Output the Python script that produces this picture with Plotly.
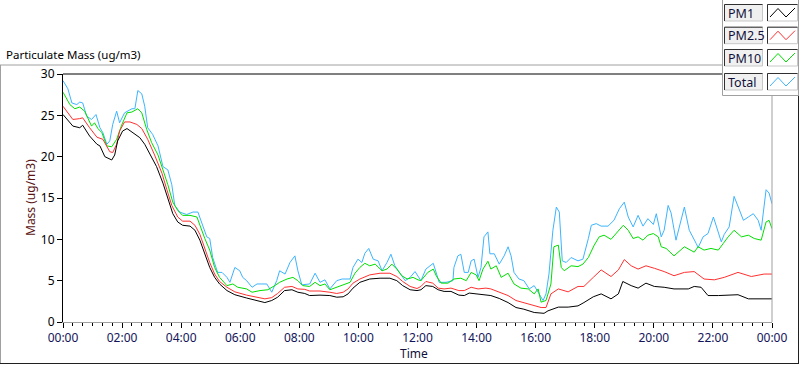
import pandas as pd
import plotly.graph_objects as go

# ---- data (minutes after 00:00, mass ug/m3) ----
pm1_min = [0, 20, 34, 40, 54, 69, 75, 85, 99, 105, 111, 121, 130, 142, 156, 166, 176, 190, 203, 213, 223, 233, 243,
           258, 268, 278, 288, 298, 308, 318, 333, 349, 373, 394, 410, 424, 436, 450, 465, 477, 491, 501, 522, 542,
           556, 569, 579, 589, 603, 623, 644, 664, 678, 690, 705, 719, 727, 733, 737, 751, 762, 774, 788, 804, 815,
           825, 839, 855, 869, 886, 904, 920, 936, 957, 971, 977, 985, 1006, 1026, 1046, 1058, 1077, 1093, 1113,
           1128, 1137, 1154, 1168, 1184, 1201, 1221, 1241, 1270, 1282, 1296, 1310, 1331, 1371, 1392, 1440]
pm1_val = [25.1, 23.7, 23.5, 23.8, 22.5, 21.5, 21.3, 20.0, 19.6, 20.2, 21.9, 23.1, 23.4, 22.9, 22.3, 21.5, 20.4, 18.8,
           16.8, 14.8, 13.1, 12.1, 11.7, 11.6, 11.1, 9.9, 8.3, 6.6, 5.4, 4.6, 3.8, 3.3, 2.9, 2.6, 2.35, 2.6, 3.0, 3.8,
           3.9, 3.6, 3.45, 3.2, 3.25, 3.2, 3.0, 3.05, 3.4, 4.1, 4.8, 5.2, 5.3, 5.3, 5.0, 4.4, 3.9, 3.8, 3.9, 4.2, 4.4,
           4.3, 3.9, 3.7, 3.7, 3.25, 3.2, 3.5, 3.4, 3.25, 3.2, 2.85, 2.35, 1.75, 1.55, 1.15, 1.05, 1.05, 1.35, 1.8,
           1.8, 1.95, 2.35, 3.05, 3.4, 2.8, 3.4, 4.9, 4.4, 4.1, 4.7, 4.3, 4.2, 4.0, 4.0, 4.3, 4.2, 3.2, 3.2, 3.3,
           2.8, 2.8]

pm25_min = [0, 20, 34, 40, 54, 69, 81, 95, 101, 109, 115, 125, 136, 150, 160, 172, 186, 201, 211, 221, 233, 243, 258,
            268, 278, 288, 298, 308, 318, 333, 349, 373, 394, 410, 424, 436, 450, 465, 477, 491, 501, 522, 542, 556,
            569, 579, 589, 603, 623, 644, 664, 678, 690, 705, 719, 727, 737, 751, 762, 774, 788, 804, 815, 829, 843,
            859, 869, 886, 904, 920, 936, 957, 971, 981, 991, 1006, 1026, 1046, 1058, 1077, 1093, 1113, 1128, 1140,
            1154, 1168, 1184, 1201, 1221, 1241, 1262, 1282, 1302, 1323, 1343, 1371, 1398, 1424, 1440]
pm25_val = [26.1, 24.5, 24.6, 24.7, 23.5, 22.35, 22.1, 20.6, 20.5, 21.5, 23.1, 24.2, 24.2, 23.9, 23.4, 22.1, 20.2,
            18.0, 16.0, 14.1, 12.7, 12.2, 12.2, 11.7, 10.6, 8.9, 7.2, 5.8, 4.9, 4.2, 3.65, 3.25, 3.0, 2.8, 2.95, 3.45,
            4.2, 4.3, 4.0, 3.95, 3.75, 3.75, 3.6, 3.45, 3.6, 4.0, 4.7, 5.2, 5.7, 5.9, 5.9, 5.5, 4.9, 4.3, 4.05, 4.3,
            4.9, 4.7, 4.1, 4.0, 4.1, 3.8, 3.8, 4.2, 4.0, 4.1, 4.0, 3.6, 3.2, 2.6, 2.35, 1.95, 1.75, 1.75, 3.4, 4.0,
            3.65, 4.3, 4.3, 5.4, 6.3, 5.5, 6.3, 7.55, 6.8, 6.4, 6.8, 6.5, 6.1, 5.6, 6.0, 6.1, 5.2, 5.1, 5.4, 6.0, 5.5,
            5.8, 5.8]

pm10_min = [0, 14, 24, 34, 44, 58, 64, 71, 79, 89, 99, 109, 119, 130, 140, 152, 160, 170, 180, 193, 203, 213, 223,
            233, 243, 258, 272, 278, 288, 298, 308, 318, 333, 345, 355, 373, 384, 400, 416, 430, 440, 455, 467, 477,
            487, 501, 512, 522, 532, 542, 556, 569, 583, 593, 603, 613, 623, 634, 648, 658, 668, 678, 688, 699, 711,
            721, 727, 741, 752, 758, 768, 782, 794, 808, 819, 829, 839, 845, 853, 863, 869, 880, 890, 904, 916, 930,
            945, 957, 965, 971, 981, 991, 997, 1006, 1012, 1018, 1032, 1046, 1056, 1067, 1079, 1089, 1099, 1113,
            1128, 1138, 1148, 1158, 1168, 1178, 1188, 1199, 1209, 1215, 1225, 1241, 1262, 1282, 1290, 1302, 1316,
            1331, 1341, 1351, 1363, 1378, 1392, 1404, 1418, 1428, 1434, 1440]
pm10_val = [27.8, 26.3, 25.8, 26.0, 25.5, 23.7, 24.1, 23.4, 22.9, 21.3, 21.2, 22.1, 23.8, 25.3, 25.4, 25.8, 25.3,
            23.3, 21.7, 20.2, 18.4, 16.6, 14.5, 13.5, 12.9, 12.9, 12.7, 11.7, 10.1, 8.7, 6.6, 5.4, 4.4, 4.6, 4.2, 4.0,
            3.6, 3.8, 3.9, 4.4, 4.8, 5.2, 5.4, 5.0, 4.4, 4.3, 4.8, 4.4, 4.6, 3.9, 4.2, 4.5, 4.8, 5.9, 6.6, 7.1, 6.8,
            7.0, 6.2, 6.4, 7.0, 6.4, 5.6, 5.2, 5.4, 5.1, 5.0, 6.0, 6.4, 5.6, 4.7, 4.7, 5.2, 5.3, 5.0, 6.0, 5.7, 5.0,
            6.4, 7.35, 6.4, 6.8, 5.4, 5.9, 4.6, 4.1, 4.0, 3.4, 4.0, 2.4, 2.6, 4.6, 9.1, 9.3, 6.6, 6.2, 6.8, 6.7, 7.0,
            7.8, 9.3, 10.3, 10.5, 10.0, 11.1, 11.7, 11.1, 10.1, 10.3, 9.9, 10.5, 10.7, 10.3, 9.1, 8.9, 8.0, 9.1, 8.45,
            9.1, 8.7, 8.9, 8.7, 9.5, 10.3, 11.1, 10.3, 10.5, 10.1, 9.9, 12.1, 12.3, 11.3]

total_min = [0, 10, 18, 28, 34, 40, 48, 58, 67, 75, 81, 89, 95, 101, 109, 115, 125, 140, 146, 152, 160, 166, 172,
             182, 193, 203, 213, 221, 227, 237, 251, 264, 274, 282, 292, 298, 304, 314, 323, 333, 339, 349, 359, 365,
             373, 384, 394, 404, 414, 424, 434, 440, 451, 461, 471, 477, 485, 501, 512, 522, 532, 542, 556, 567, 583,
             589, 599, 607, 613, 621, 630, 640, 648, 658, 666, 674, 684, 695, 705, 715, 727, 737, 752, 758, 764, 778,
             792, 794, 802, 808, 815, 823, 829, 835, 843, 849, 855, 863, 867, 876, 886, 896, 904, 910, 916, 926, 936,
             947, 957, 967, 975, 981, 987, 995, 1002, 1008, 1014, 1022, 1032, 1046, 1056, 1067, 1073, 1083, 1093,
             1107, 1119, 1130, 1140, 1148, 1158, 1168, 1178, 1188, 1199, 1205, 1215, 1221, 1229, 1235, 1245, 1262,
             1272, 1286, 1290, 1300, 1310, 1321, 1327, 1337, 1343, 1353, 1363, 1371, 1382, 1392, 1402, 1412, 1418,
             1428, 1434, 1440]
total_val = [29.2, 28.2, 26.5, 26.3, 26.6, 26.5, 24.9, 24.5, 25.1, 23.5, 22.9, 21.5, 21.9, 23.9, 25.5, 24.1, 25.3,
             25.8, 25.8, 28.0, 27.6, 26.1, 23.5, 22.7, 21.3, 18.8, 18.4, 16.6, 14.1, 13.3, 13.0, 13.3, 13.3, 11.9,
             10.3, 10.1, 7.8, 6.0, 6.0, 5.4, 4.8, 6.6, 6.2, 5.4, 5.0, 4.2, 4.6, 4.6, 4.6, 3.6, 5.0, 6.2, 5.8, 7.2, 8.0,
             6.2, 4.5, 4.6, 5.9, 4.8, 5.1, 4.0, 5.0, 5.2, 5.2, 6.6, 7.6, 7.2, 8.3, 8.9, 7.6, 7.4, 6.2, 7.2, 8.2, 6.8,
             6.0, 5.0, 5.4, 6.1, 5.0, 6.4, 7.1, 6.0, 4.8, 4.8, 5.0, 6.6, 8.0, 8.2, 6.0, 6.0, 7.4, 7.6, 5.4, 6.6, 10.3,
             10.9, 8.25, 8.25, 7.0, 8.0, 9.1, 8.0, 6.0, 5.2, 5.0, 4.0, 4.4, 3.4, 2.6, 3.4, 5.8, 11.1, 13.9, 13.3, 7.4,
             7.2, 7.8, 7.4, 7.6, 10.1, 11.7, 11.9, 11.6, 11.6, 12.3, 13.7, 14.5, 12.7, 11.5, 12.9, 11.6, 12.5, 11.8,
             13.1, 10.3, 11.1, 14.1, 13.2, 9.9, 13.9, 11.1, 9.5, 9.0, 10.3, 10.7, 12.7, 11.5, 9.7, 10.6, 11.5, 15.2,
             13.9, 12.3, 12.7, 13.1, 12.3, 11.1, 16.0, 15.6, 14.3]

series_names = ["PM1", "PM2.5", "PM10", "Total"]
series_colors = ["#000000", "#ff3030", "#00e000", "#3cb4ff"]
y_ticks = [0, 5, 10, 15, 20, 25, 30]

# ---- figure geometry (pixels) ----
W, H = 800, 365
L, R, T, B = 63, 28, 74, 43
PW, PH = W - L - R, H - T - B


def px(x):
    return (x - L) / PW


def py(y):
    return (H - B - y) / PH


day0 = pd.Timestamp("2000-01-01")


def to_time(mins):
    return [day0 + pd.Timedelta(minutes=m) for m in mins]


fig = go.Figure()
all_series = [(pm1_min, pm1_val), (pm25_min, pm25_val), (pm10_min, pm10_val), (total_min, total_val)]
# draw Total first so PM1 ends on top
for idx in [3, 2, 1, 0]:
    mins, vals = all_series[idx]
    fig.add_trace(go.Scatter(x=to_time(mins), y=vals, mode="lines", name=series_names[idx],
                             line=dict(color=series_colors[idx], width=1), showlegend=False))

font_family = "Noto Sans, Open Sans, sans-serif"

fig.update_layout(
    width=W, height=H,
    margin=dict(l=L, r=R, t=T, b=B, pad=0),
    paper_bgcolor="white", plot_bgcolor="white",
    font=dict(family=font_family, size=12, color="#000000"),
    showlegend=False,
    xaxis=dict(type="date", range=[day0, day0 + pd.Timedelta(days=1)], dtick=2 * 3600 * 1000,
               tick0=day0, tickformat="%H:%M", showgrid=False, zeroline=False,
               showline=True, linecolor="#a0a0a0", linewidth=1,
               ticks="outside", ticklen=5, tickcolor="#000000", tickwidth=1,
               tickfont=dict(color="#14145a", size=12),
               minor=dict(dtick=20 * 60 * 1000, ticks="outside", ticklen=3, tickcolor="#000000", showgrid=False)),
    yaxis=dict(range=[0, 30], tickvals=y_ticks, showgrid=False, zeroline=False,
               showline=True, linecolor="#000000", linewidth=1,
               ticks="outside", ticklen=5, tickcolor="#000000", tickwidth=1,
               tickfont=dict(color="#000000", size=12)),
)

shapes = []
# plot area top (black) and right (gray) borders
shapes.append(dict(type="line", xref="paper", yref="paper", x0=0, x1=1, y0=1, y1=1,
                   line=dict(color="#000000", width=1)))
shapes.append(dict(type="line", xref="paper", yref="paper", x0=1, x1=1, y0=0, y1=1,
                   line=dict(color="#a0a0a0", width=1)))
# outer panel frame
shapes.append(dict(type="line", xref="paper", yref="paper", x0=px(0), x1=px(722), y0=py(65), y1=py(65),
                   line=dict(color="#a0a0a0", width=1)))
shapes.append(dict(type="line", xref="paper", yref="paper", x0=px(0.5), x1=px(0.5), y0=py(65), y1=py(363.5),
                   line=dict(color="#a0a0a0", width=1)))
shapes.append(dict(type="line", xref="paper", yref="paper", x0=px(0), x1=px(799), y0=py(363.5), y1=py(363.5),
                   line=dict(color="#202020", width=1)))
shapes.append(dict(type="line", xref="paper", yref="paper", x0=px(798.5), x1=px(798.5), y0=py(95), y1=py(364),
                   line=dict(color="#202020", width=1)))
# legend panel
shapes.append(dict(type="rect", xref="paper", yref="paper", x0=px(722), x1=px(799), y0=py(0), y1=py(95.5),
                   fillcolor="#ffffff", line=dict(width=0)))
shapes.append(dict(type="line", xref="paper", yref="paper", x0=px(722.5), x1=px(722.5), y0=py(0), y1=py(95.5),
                   line=dict(color="#a0a0a0", width=1)))
shapes.append(dict(type="line", xref="paper", yref="paper", x0=px(722.5), x1=px(799), y0=py(95.5), y1=py(95.5),
                   line=dict(color="#a0a0a0", width=1)))
shapes.append(dict(type="line", xref="paper", yref="paper", x0=px(798.5), x1=px(798.5), y0=py(0), y1=py(95.5),
                   line=dict(color="#a0a0a0", width=1)))

annotations = []
row_tops = [4.5, 27.2, 49.5, 73.5]
for i, name in enumerate(series_names):
    yt = row_tops[i]
    yb = yt + 16.5
    for (x0, x1, fill) in [(724.5, 762.5, "#f0f0f0"), (767.5, 797.5, "#ffffff")]:
        shapes.append(dict(type="rect", xref="paper", yref="paper", x0=px(x0), x1=px(x1), y0=py(yb), y1=py(yt),
                           fillcolor=fill, line=dict(color="#c8c8c8", width=1)))
        shapes.append(dict(type="path", xref="paper", yref="paper",
                           path=f"M {px(x0)} {py(yb)} L {px(x0)} {py(yt)} L {px(x1)} {py(yt)}",
                           line=dict(color="#303030", width=1)))
    zig = [(770, yt + 12.5), (778, yt + 4), (786, yt + 12.5), (795, yt + 3.5)]
    path = "M " + " L ".join(f"{px(a)} {py(b)}" for a, b in zig)
    shapes.append(dict(type="path", xref="paper", yref="paper", path=path,
                       line=dict(color=series_colors[i], width=1)))
    annotations.append(dict(xref="paper", yref="paper", x=px(726), y=py(yt + 8.5), text=name, showarrow=False,
                            xanchor="left", yanchor="middle",
                            font=dict(family=font_family, size=12.5, color="#10103a")))

annotations.append(dict(xref="paper", yref="paper", x=px(4), y=py(55), text="Particulate Mass (ug/m3)",
                        showarrow=False, xanchor="left", yanchor="middle",
                        font=dict(family=font_family, size=11.5, color="#000000")))
annotations.append(dict(xref="paper", yref="paper", x=px(30), y=py(198), text="Mass (ug/m3)", textangle=-90,
                        showarrow=False, xanchor="center", yanchor="middle",
                        font=dict(family=font_family, size=12, color="#5a1414")))
annotations.append(dict(xref="paper", yref="paper", x=px(414), y=py(353), text="Time",
                        showarrow=False, xanchor="center", yanchor="middle",
                        font=dict(family=font_family, size=12, color="#10103a")))

fig.update_layout(shapes=shapes, annotations=annotations)
fig.write_html("out.html", config={"displayModeBar": False},
               post_script="document.body.style.margin='0';document.body.style.overflow='hidden';")
